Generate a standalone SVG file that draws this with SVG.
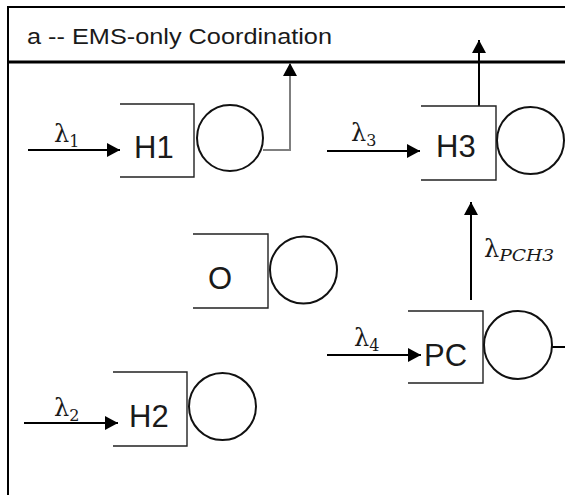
<svg xmlns="http://www.w3.org/2000/svg" width="565" height="495" viewBox="0 0 565 495">
<style>
.frame{stroke:#000;fill:none}
.q{stroke:#222;stroke-width:1.4;fill:none}
.srv{stroke:#111;stroke-width:2;fill:none}
.lbl{font-family:"Liberation Sans",Arial,sans-serif;font-size:31px;fill:#1a1a1a}
.ttl{font-family:"Liberation Sans",Arial,sans-serif;font-size:22px;fill:#1a1a1a}
.lam{font-family:"DejaVu Serif","Liberation Serif",serif;font-size:24px;fill:#1a1a1a}
.sub{font-size:16px}
.arr{stroke:#000;stroke-width:2;fill:none;marker-end:url(#ah)}
.garr{stroke:#7f7f7f;stroke-width:2;fill:none;marker-end:url(#ah)}
</style>
<defs>
<marker id="ah" markerUnits="userSpaceOnUse" markerWidth="14" markerHeight="14" refX="13" refY="7" orient="auto">
<path d="M0,0 L13,7 L0,14 z" fill="#000"/>
</marker>
</defs>
<rect width="565" height="495" fill="#fff"/>
<g id="frame">
<path class="frame" stroke-width="2" d="M8,495 V7 H565"/>
<line class="frame" stroke-width="3" x1="8" y1="62" x2="565" y2="62"/>
<text class="ttl" x="27" y="44" textLength="305" lengthAdjust="spacingAndGlyphs">a -- EMS-only Coordination</text>
</g>
<g id="connectors">
<line class="arr" x1="28" y1="150" x2="120" y2="150"/>
<polyline class="garr" points="263,150 290,150 290,63"/>
<line class="arr" x1="327" y1="151" x2="420" y2="151"/>
<line class="arr" x1="479" y1="106" x2="479" y2="40"/>
<line class="arr" x1="471" y1="300" x2="471" y2="202"/>
<line class="arr" x1="327" y1="355" x2="421" y2="355"/>
<line stroke="#000" stroke-width="2" x1="552" y1="347" x2="565" y2="347"/>
<line class="arr" x1="24" y1="423" x2="118" y2="423"/>
<text class="lam" x="54" y="142">λ<tspan class="sub" dy="5">1</tspan></text>
<text class="lam" x="351" y="141">λ<tspan class="sub" dy="5">3</tspan></text>
<text class="lam" x="54" y="416">λ<tspan class="sub" dy="5">2</tspan></text>
<text class="lam" x="354" y="346">λ<tspan class="sub" dy="5">4</tspan></text>
<text class="lam" x="484" y="257">λ<tspan class="sub" dy="4" font-size="18" font-style="italic" textLength="55" lengthAdjust="spacingAndGlyphs">PCH3</tspan></text>
</g>
<g id="H1">
<path class="q" d="M120,104 H194 V177 H120"/>
<circle class="srv" cx="230" cy="138" r="33"/>
<text class="lbl" x="134" y="158">H1</text>
</g>
<g id="H3">
<path class="q" d="M421,106 H496 V180 H421"/>
<circle class="srv" cx="530.5" cy="140.5" r="33.5"/>
<text class="lbl" x="436" y="157">H3</text>
</g>
<g id="O">
<path class="q" d="M193,234 H268 V308 H193"/>
<circle class="srv" cx="303.5" cy="270" r="33.5"/>
<text class="lbl" x="208" y="289">O</text>
</g>
<g id="PC">
<path class="q" d="M408,311 H483 V383 H408"/>
<circle class="srv" cx="518" cy="345" r="34"/>
<text class="lbl" x="424" y="366">PC</text>
</g>
<g id="H2">
<path class="q" d="M113,372 H187 V446 H113"/>
<circle class="srv" cx="222.5" cy="406.5" r="33.5"/>
<text class="lbl" x="129" y="427">H2</text>
</g>
</svg>
